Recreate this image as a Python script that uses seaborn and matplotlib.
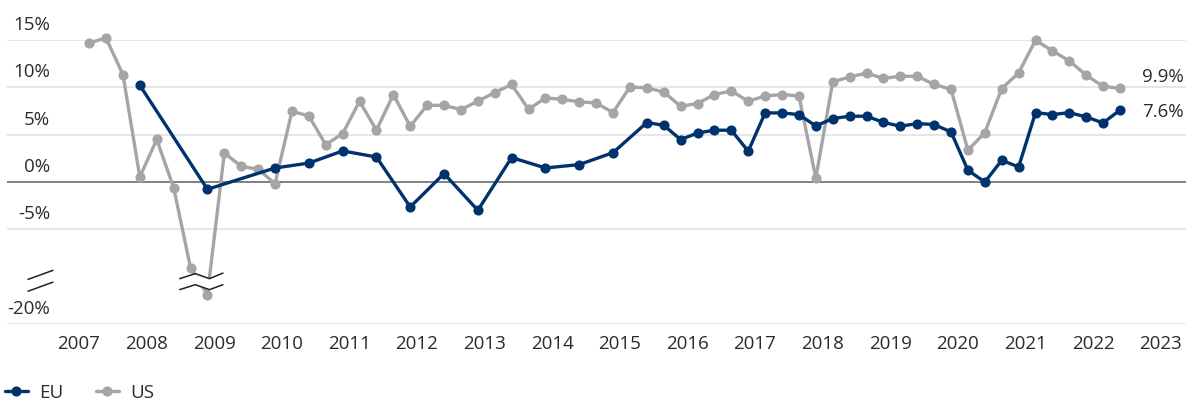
import pandas as pd
import matplotlib
matplotlib.use("Agg")
import matplotlib.pyplot as plt
import matplotlib.transforms as mtransforms
from matplotlib.lines import Line2D
import seaborn as sns

# quarterly growth, %
QUARTERS = pd.period_range("2007Q1", "2022Q2", freq="Q").astype(str).tolist()

US_VALUES = [14.7, 15.2, 11.35, 0.53, 4.5, -0.6, -9.05, -16.9,
             3.07, 1.66, 1.34, -0.17, 7.47, 6.98, 3.95, 5.1,
             8.53, 5.47, 9.24, 5.89, 8.1, 8.1, 7.65, 8.53,
             9.45, 10.3, 7.68, 8.88, 8.74, 8.46, 8.35, 7.34,
             10.04, 9.94, 9.51, 8.0, 8.29, 9.24, 9.62, 8.53,
             9.09, 9.24, 9.09, 0.42, 10.57, 11.1, 11.5, 10.95,
             11.17, 11.17, 10.3, 9.8, 3.35, 5.22, 9.87, 11.52,
             14.98, 13.85, 12.8, 11.28, 10.1, 9.9]

EU_QUARTERS = ["2007Q4", "2008Q4", "2009Q4", "2010Q2", "2010Q4", "2011Q2",
               "2011Q4", "2012Q2", "2012Q4", "2013Q2", "2013Q4", "2014Q2",
               "2014Q4"] + QUARTERS[33:]
EU_VALUES = [10.22, -0.77, 1.48, 2.0, 3.28, 2.64, -2.64, 0.89, -2.99, 2.58,
             1.48, 1.84, 3.1,
             6.28, 5.99, 4.48, 5.18, 5.47, 5.47, 3.25, 7.3, 7.3, 7.12, 5.92,
             6.7, 6.95, 6.95, 6.3, 5.89, 6.17, 6.07, 5.29, 1.24, 0.0, 2.29,
             1.59, 7.33, 7.12, 7.33, 6.87, 6.24, 7.6]

YEARS = list(range(2007, 2024))
Y_TICKS = [15, 10, 5, 0, -5, -20]

EU_COLOR = "#00336e"
US_COLOR = "#a5a5a8"
TEXT = "#2b2b2b"
GRID = "#e2e2e2"
FS = 13.5
LW = 2.4
MS = 7.3

# broken axis: everything below -10 is moved up by 5 points
BREAK_AT = -10
BREAK_GAP = 5


def shown(v):
    return v if v >= BREAK_AT else v + BREAK_GAP


def qx(label):
    p = pd.Period(label, freq="Q")
    return p.year + (p.quarter - 0.4) / 4


df = pd.concat([
    pd.DataFrame({"x": [qx(q) for q in QUARTERS], "y": [shown(v) for v in US_VALUES], "series": "US"}),
    pd.DataFrame({"x": [qx(q) for q in EU_QUARTERS], "y": [shown(v) for v in EU_VALUES], "series": "EU"}),
])

sns.set_theme(style="white")
plt.rcParams["font.family"] = ["Open Sans", "DejaVu Sans"]

fig = plt.figure(figsize=(11.86, 4.03), dpi=100)
ax = fig.add_axes([7 / 1186, 79 / 403, 1179 / 1186, 284 / 403])

# grid
for t in Y_TICKS:
    ax.axhline(shown(t), color=GRID, lw=1.2, zorder=0)
ax.axhline(0, color="#707070", lw=1.2, zorder=1)

sns.lineplot(data=df, x="x", y="y", hue="series", hue_order=["US", "EU"],
             palette={"US": US_COLOR, "EU": EU_COLOR}, estimator=None,
             marker="o", markersize=MS, markeredgewidth=0, linewidth=LW,
             legend=False, ax=ax, clip_on=False, zorder=3)

ax.set_xlim(2005.935, 2023.376)
ax.set_ylim(-15, 15)
for s in ax.spines.values():
    s.set_visible(False)
ax.set_xticks(YEARS)
ax.set_xticklabels([str(y) for y in YEARS])
ax.tick_params(axis="x", length=0, pad=8, labelsize=FS, labelcolor=TEXT)
ax.set_yticks([])
ax.set_xlabel("")
ax.set_ylabel("")

# y labels sit above their grid lines, inside the plot
lab_tr = mtransforms.offset_copy(
    mtransforms.blended_transform_factory(ax.transAxes, ax.transData),
    fig=fig, y=15, units="dots")
for t in Y_TICKS:
    ax.text(0.0365, shown(t), f"{t}%", transform=lab_tr, ha="right",
            va="center", fontsize=FS, color=TEXT)

# axis break mark
br = mtransforms.blended_transform_factory(ax.transAxes, ax.transData)
for dy in (0.0, -1.25):
    ax.plot([0.0178, 0.039], [-10.29 + dy, -9.33 + dy], color="#222222",
            lw=1.1, transform=br, clip_on=False, zorder=6)

# break on the US line
bx = qx(QUARTERS[US_VALUES.index(min(US_VALUES))])
zx = [bx - 0.41, bx - 0.18, bx + 0.03, bx + 0.23]
upper = [-10.21, -9.68, -10.21, -9.62]
lower = [-11.37, -10.85, -11.37, -10.85]
ax.fill_between(zx, lower, upper, color="white", zorder=5, lw=0)
ax.plot(zx, upper, color="#222222", lw=1.1, zorder=6)
ax.plot(zx, lower, color="#222222", lw=1.1, zorder=6)

# end labels
ax.annotate(f"{US_VALUES[-1]:.1f}%", (qx(QUARTERS[-1]), US_VALUES[-1]),
            xytext=(16, 8), textcoords="offset points", ha="left",
            va="center", fontsize=FS, color=TEXT)
ax.annotate(f"{EU_VALUES[-1]:.1f}%", (qx(EU_QUARTERS[-1]), EU_VALUES[-1]),
            xytext=(16, -1.6), textcoords="offset points", ha="left",
            va="center", fontsize=FS, color=TEXT)

handles = [Line2D([], [], color=EU_COLOR, lw=LW, marker="o", ms=MS, mew=0),
           Line2D([], [], color=US_COLOR, lw=LW, marker="o", ms=MS, mew=0)]
fig.legend(handles, ["EU", "US"], loc="center left", bbox_to_anchor=(0.004, 0.026),
           ncol=2, frameon=False, fontsize=FS, labelcolor=TEXT,
           handlelength=1.25, handletextpad=0.6, columnspacing=1.7,
           borderpad=0, borderaxespad=0)

fig.savefig("out.png", dpi=100, facecolor="white")
